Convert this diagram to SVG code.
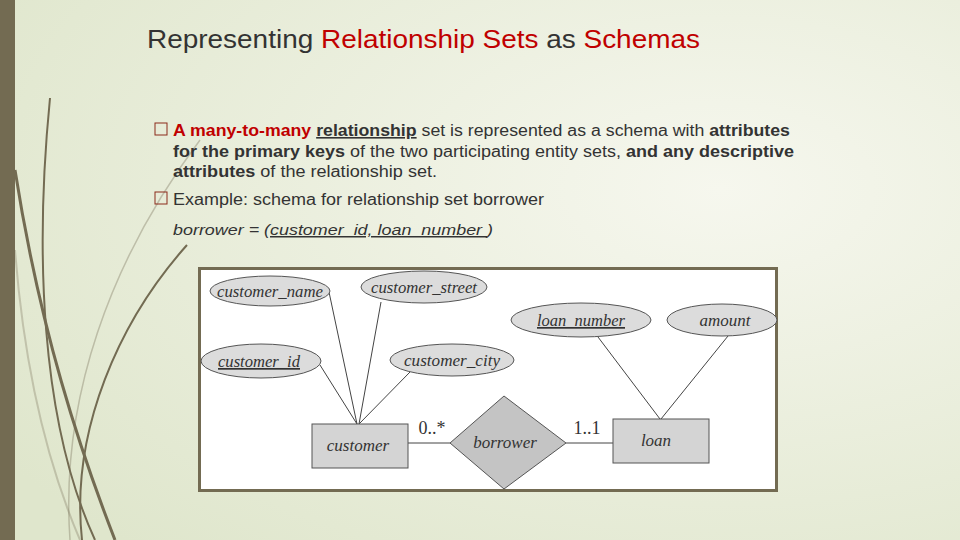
<svg xmlns="http://www.w3.org/2000/svg" width="960" height="540" viewBox="0 0 960 540">
<defs>
<radialGradient id="bg" cx="0.75" cy="0.35" r="0.9"><stop offset="0" stop-color="#f6f7ee"/><stop offset="1" stop-color="#dfe6cc"/></radialGradient>
<style>
.t{font-family:"Liberation Sans",Arial,sans-serif;fill:#333}
.er{font-family:"Liberation Serif","Times New Roman",serif;font-style:italic;font-size:17px;fill:#333;text-anchor:middle}
.num{font-family:"Liberation Serif","Times New Roman",serif;font-size:18px;fill:#333;text-anchor:middle}
.att{fill:#dcdcdc;stroke:#555;stroke-width:1}
.ent{fill:#d4d4d4;stroke:#555;stroke-width:1}
.ln{stroke:#444;stroke-width:1;fill:none}
.sw{fill:none;stroke:#736b52}
</style>
</defs>
<rect width="960" height="540" fill="url(#bg)"/>
<rect width="15" height="540" fill="#736b52"/>
<g id="deco">
<path class="sw" stroke-width="3" d="M15 170 C40 330 80 450 115 540"/>
<path class="sw" stroke-width="2" d="M50 98 C35 250 40 420 95 540"/>
<path class="sw" stroke-width="2" d="M187 245 C120 320 70 430 82 540"/>
<path class="sw" stroke-width="1.5" stroke-opacity="0.35" d="M200 140 C110 260 60 400 70 540"/>
<path class="sw" stroke-width="2" stroke-opacity="0.3" d="M15 250 C25 380 50 470 80 540"/>
</g>
<text class="t" x="147" y="48" font-size="25" textLength="553" lengthAdjust="spacingAndGlyphs">Representing <tspan fill="#c00000">Relationship Sets</tspan> as <tspan fill="#c00000">Schemas</tspan></text>
<g class="t" font-size="16">
<rect x="155" y="123" width="12" height="12" fill="none" stroke="#8b2a1a"/>
<text x="173" y="136" font-weight="bold" textLength="617" lengthAdjust="spacingAndGlyphs"><tspan fill="#c00000">A many-to-many </tspan><tspan text-decoration="underline">relationship</tspan><tspan font-weight="normal"> set is represented as a schema with </tspan>attributes</text>
<text x="173" y="157" textLength="621" lengthAdjust="spacingAndGlyphs"><tspan font-weight="bold">for the primary keys</tspan> of the two participating entity sets, <tspan font-weight="bold">and any descriptive</tspan></text>
<text x="173" y="177" textLength="264" lengthAdjust="spacingAndGlyphs"><tspan font-weight="bold">attributes</tspan> of the relationship set.</text>
<rect x="155" y="192" width="12" height="12" fill="none" stroke="#8b2a1a"/>
<text x="173" y="205" textLength="371" lengthAdjust="spacingAndGlyphs">Example: schema for relationship set borrower</text>
<text x="173" y="235" font-style="italic" font-size="15" textLength="320" lengthAdjust="spacingAndGlyphs">borrower = (<tspan text-decoration="underline">customer_id, loan_number </tspan>)</text>
</g>
<rect x="199.5" y="268.5" width="577" height="222" fill="#fff" stroke="#736b52" stroke-width="3"/>
<g id="connectors">
<line class="ln" x1="329" y1="292" x2="357" y2="424"/>
<line class="ln" x1="381" y1="302" x2="359" y2="424"/>
<line class="ln" x1="320" y1="365" x2="357" y2="424"/>
<line class="ln" x1="410" y1="372" x2="359" y2="424"/>
<line class="ln" x1="408" y1="443" x2="450" y2="443"/>
<line class="ln" x1="566" y1="443" x2="613" y2="443"/>
<line class="ln" x1="598" y1="337" x2="660" y2="419"/>
<line class="ln" x1="728" y1="336" x2="661" y2="419"/>
<text class="num" x="432" y="434">0..*</text>
<text class="num" x="587" y="434">1..1</text>
</g>
<g id="customer_name"><ellipse class="att" cx="270" cy="291" rx="60" ry="15"/><text class="er" x="270" y="297" textLength="106" lengthAdjust="spacingAndGlyphs">customer_name</text></g>
<g id="customer_street"><ellipse class="att" cx="424" cy="287" rx="63" ry="16"/><text class="er" x="424" y="293" textLength="106" lengthAdjust="spacingAndGlyphs">customer_street</text></g>
<g id="customer_id"><ellipse class="att" cx="261" cy="361" rx="60" ry="17"/><text class="er" x="259" y="367" text-decoration="underline" textLength="82" lengthAdjust="spacingAndGlyphs">customer_id</text></g>
<g id="customer_city"><ellipse class="att" cx="452" cy="360" rx="62" ry="16"/><text class="er" x="452" y="366" textLength="96" lengthAdjust="spacingAndGlyphs">customer_city</text></g>
<g id="loan_number"><ellipse class="att" cx="581" cy="320" rx="70" ry="17"/><text class="er" x="581" y="326" text-decoration="underline" textLength="88" lengthAdjust="spacingAndGlyphs">loan_number</text></g>
<g id="amount"><ellipse class="att" cx="722" cy="320" rx="55" ry="16"/><text class="er" x="725" y="326">amount</text></g>
<g id="customer"><rect class="ent" x="312" y="424" width="96" height="44"/><text class="er" x="358" y="451">customer</text></g>
<g id="loan"><rect class="ent" x="613" y="419" width="96" height="44"/><text class="er" x="656" y="446">loan</text></g>
<g id="borrower"><polygon points="504,396 566,443 504,489 450,443" fill="#c4c4c4" stroke="#555"/><text class="er" x="505" y="448">borrower</text></g>
</svg>
